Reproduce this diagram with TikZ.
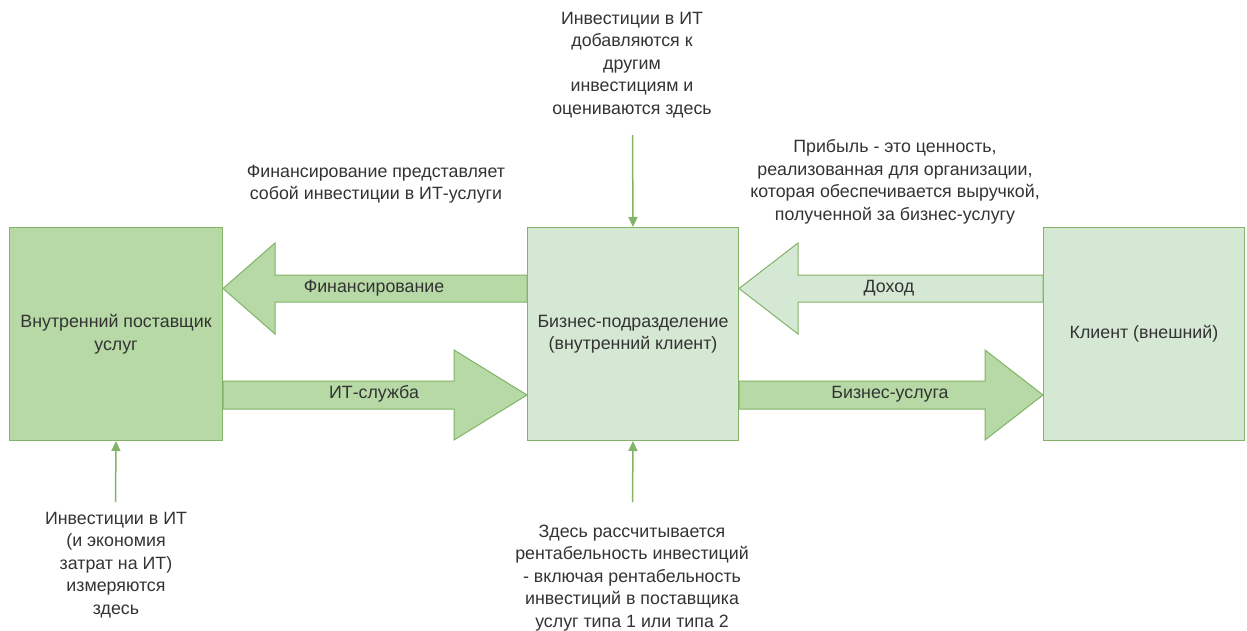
\documentclass[tikz,border=0pt]{standalone}
\usepackage{fontspec}
\setmainfont{Liberation Sans}
\usetikzlibrary{arrows.meta}
\definecolor{lightg}{HTML}{D5E8D4}
\definecolor{darkg}{HTML}{B7D9A6}
\definecolor{edgeg}{HTML}{82B366}
\definecolor{txt}{HTML}{333333}
\begin{document}
\begin{tikzpicture}[x=1pt,y=-1pt,
  every node/.style={font=\fontsize{17.8}{22.5}\selectfont, text=txt},
  box/.style={draw=edgeg, line width=1pt, minimum height=213pt, inner sep=0pt,
    align=center, anchor=north west},
  barrow/.style={draw=edgeg, line width=1pt, line join=miter},
  note/.style={align=center, inner sep=0pt},
  varrow/.style={draw=edgeg, line width=1.5pt, -{Triangle[length=10pt,width=9pt]}}
]
\useasboundingbox (0,0) rectangle (1247,631);

% the three units
\node[box, fill=darkg, minimum width=213pt] (sup) at (9,227) {Внутренний поставщик\\услуг};
\node[box, fill=lightg, minimum width=211pt] (biz) at (527,227) {Бизнес-подразделение\\(внутренний клиент)};
\node[box, fill=lightg, minimum width=201pt] (cli) at (1043,227) {Клиент (внешний)};

% block arrows between the units
\draw[barrow, fill=darkg] (biz.west |- 0,275) -- (275,275) -- (275,243) -- (sup.east |- 0,288.5)
  -- (275,334) -- (275,302) -- (biz.west |- 0,302) -- cycle;
\draw[barrow, fill=darkg] (sup.east |- 0,381) -- (454,381) -- (454,350) -- (biz.west |- 0,395)
  -- (454,440) -- (454,409) -- (sup.east |- 0,409) -- cycle;
\draw[barrow, fill=lightg] (cli.west |- 0,275) -- (798,275) -- (798,243) -- (biz.east |- 0,288.5)
  -- (798,334) -- (798,302) -- (cli.west |- 0,302) -- cycle;
\draw[barrow, fill=darkg] (biz.east |- 0,381) -- (985,381) -- (985,350) -- (cli.west |- 0,395)
  -- (985,440) -- (985,409) -- (biz.east |- 0,409) -- cycle;

\node (lfin) at (374,288) {Финансирование};
\node (lit) at (374,394) {ИТ-служба};
\node (linc) at (889,288) {Доход};
\node (lsvc) at (890,394) {Бизнес-услуга};

% annotations
\node[note] (ntop) at (632,65) {Инвестиции в ИТ\\добавляются к\\другим\\инвестициям и\\оцениваются здесь};
\node[note] (nfin) at (376,184) {Финансирование представляет\\собой инвестиции в ИТ-услуги};
\node[note] (nprof) at (895,182) {Прибыль - это ценность,\\реализованная для организации,\\которая обеспечивается выручкой,\\полученной за бизнес-услугу};
\node[note] (nleft) at (116,565) {Инвестиции в ИТ\\(и экономия\\затрат на ИТ)\\измеряются\\здесь};
\node[note] (nmid) at (632,578) {Здесь рассчитывается\\рентабельность инвестиций\\- включая рентабельность\\инвестиций в поставщика\\услуг типа 1 или типа 2};

% pointers from annotations
\coordinate (ptop) at (632.5,135);
\coordinate (pleft) at (115.5,502);
\coordinate (pmid) at (632.5,502);
\draw[varrow] (ptop) -- (biz.north);
\draw[varrow] (pleft) -- (sup.south);
\draw[varrow] (pmid) -- (biz.south);
\end{tikzpicture}
\end{document}
